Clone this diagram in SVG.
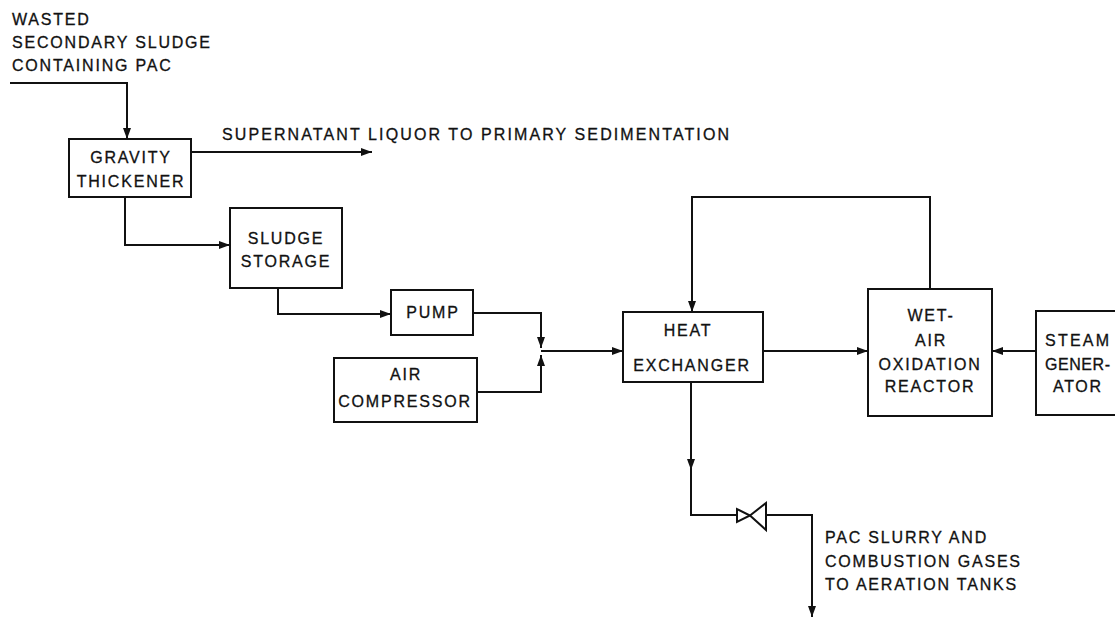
<svg xmlns="http://www.w3.org/2000/svg" width="1115" height="619" viewBox="0 0 1115 619">
<style>
.box{fill:#fff;stroke:#111;stroke-width:2}
.ln{fill:none;stroke:#111;stroke-width:2}
.ar{fill:none;stroke:#111;stroke-width:2;marker-end:url(#ah)}
text{font-family:"Liberation Sans",Arial,sans-serif;font-size:16px;fill:#111;stroke:#111;stroke-width:0.3;letter-spacing:1.8px}
.c{text-anchor:middle}
.t{letter-spacing:0}
</style>
<defs>
<marker id="ah" markerUnits="userSpaceOnUse" markerWidth="12" markerHeight="8" refX="11" refY="4" orient="auto">
<path d="M0,0 L11,4 L0,8 z" fill="#111"/>
</marker>
</defs>
<rect width="1115" height="619" fill="#fff"/>
<g id="labels">
<text x="12" y="25">WASTED</text>
<text x="12" y="48">SECONDARY SLUDGE</text>
<text x="12" y="71">CONTAINING PAC</text>
<text class="t" x="222" y="140" textLength="507" lengthAdjust="spacing">SUPERNATANT LIQUOR TO PRIMARY SEDIMENTATION</text>
<text x="825" y="543">PAC SLURRY AND</text>
<text x="825" y="567">COMBUSTION GASES</text>
<text x="825" y="590">TO AERATION TANKS</text>
</g>
<g id="connectors">
<path class="ar" d="M10,83 H127 V139"/>
<path class="ar" d="M191,152 H372"/>
<path class="ar" d="M125,197 V245 H230"/>
<path class="ar" d="M278,288 V314 H391"/>
<path class="ar" d="M473,313 H541 V348"/>
<path class="ar" d="M477,392 H541 V355"/>
<path class="ar" d="M541,351 H623"/>
<path class="ar" d="M763,351 H868"/>
<path class="ar" d="M930,289 V197 H692 V312"/>
<path class="ar" d="M1036,351 H992"/>
<path class="ar" d="M691,382 V470"/>
<path class="ln" d="M691,465 V515 H737"/>
<path class="ar" d="M766,515 H812 V617"/>
</g>
<g id="valve">
<path class="box" d="M737,509 L737,522 L750,515.5 Z"/>
<path class="box" d="M750,515.5 L766,503 L766,530 Z"/>
</g>
<g id="gravity-thickener">
<rect class="box" x="69" y="139" width="122" height="58"/>
<text class="c" x="131" y="163">GRAVITY</text>
<text class="c" x="131" y="187">THICKENER</text>
</g>
<g id="sludge-storage">
<rect class="box" x="230" y="208" width="112" height="80"/>
<text class="c" x="286" y="244">SLUDGE</text>
<text class="c" x="286" y="267">STORAGE</text>
</g>
<g id="pump">
<rect class="box" x="391" y="290" width="82" height="45"/>
<text class="c" x="433" y="318">PUMP</text>
</g>
<g id="air-compressor">
<rect class="box" x="334" y="358" width="143" height="64"/>
<text class="c" x="406" y="380">AIR</text>
<text class="c" x="405" y="407">COMPRESSOR</text>
</g>
<g id="heat-exchanger">
<rect class="box" x="623" y="312" width="140" height="70"/>
<text class="c" x="688" y="336">HEAT</text>
<text class="c" x="692" y="371">EXCHANGER</text>
</g>
<g id="wet-air-oxidation-reactor">
<rect class="box" x="868" y="289" width="124" height="127"/>
<text class="c" x="931" y="321">WET-</text>
<text class="c" x="931" y="346">AIR</text>
<text class="c" x="930" y="370">OXIDATION</text>
<text class="c" x="930" y="392">REACTOR</text>
</g>
<g id="steam-generator">
<rect class="box" x="1036" y="311" width="90" height="104"/>
<text class="t" x="1045" y="346" textLength="64" lengthAdjust="spacing">STEAM</text>
<text class="t" x="1045" y="370" textLength="65" lengthAdjust="spacing">GENER-</text>
<text class="t" x="1053" y="392" textLength="48" lengthAdjust="spacing">ATOR</text>
</g>
</svg>
